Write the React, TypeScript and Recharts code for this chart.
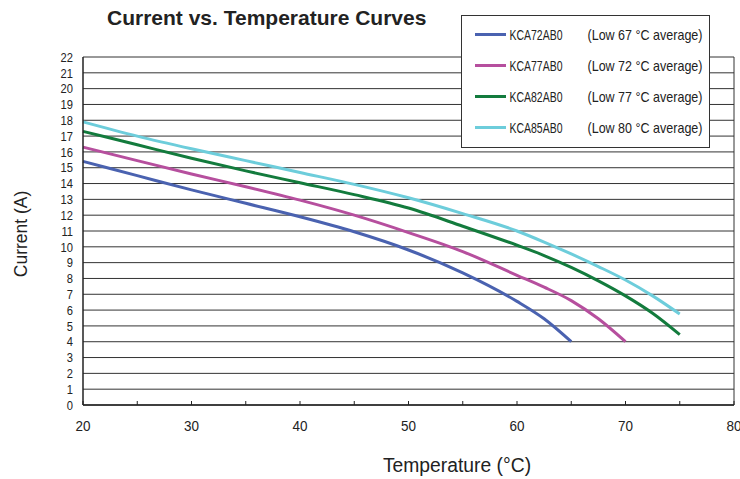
import { LineChart, Line, XAxis, YAxis, CartesianGrid, ReferenceLine } from 'recharts'

// temperature (°C) -> current (A)
const temps = [20, 25, 30, 35, 40, 45, 50, 55, 60, 62.5, 65, 67.5, 70, 72.5, 75]
const kca72 = [15.4, 14.5, 13.6, 12.75, 11.9, 10.95, 9.8, 8.35, 6.55, 5.45, 4.0, null, null, null, null]
const kca77 = [16.3, 15.45, 14.6, 13.8, 12.95, 12.0, 10.9, 9.7, 8.2, 7.45, 6.6, 5.45, 4.0, null, null]
const kca82 = [17.3, 16.45, 15.6, 14.8, 14.05, 13.3, 12.45, 11.3, 10.1, 9.45, 8.7, 7.85, 6.9, 5.8, 4.45]
const kca85 = [17.9, 17.0, 16.2, 15.45, 14.7, 13.95, 13.1, 12.1, 11.0, 10.3, 9.55, 8.75, 7.9, 6.9, 5.75]

const seriesKeys = ['kca72', 'kca77', 'kca82', 'kca85']
const seriesNames = ['KCA72AB0', 'KCA77AB0', 'KCA82AB0', 'KCA85AB0']
const seriesNotes = ['(Low 67 °C average)', '(Low 72 °C average)', '(Low 77 °C average)', '(Low 80 °C average)']
const seriesColors = ['#4a62b0', '#b64f9e', '#137b3d', '#6dcddb']

const xTicks = [20, 25, 30, 35, 40, 45, 50, 55, 60, 65, 70, 75, 80]
const yTicks = Array.from({ length: 23 }, (_, i) => i)

const data = temps.map((t, i) => ({
  t,
  kca72: kca72[i],
  kca77: kca77[i],
  kca82: kca82[i],
  kca85: kca85[i],
}))

const FONT = '"Liberation Sans", Arial, sans-serif'

type TickProps = { x?: number; y?: number; payload?: { value: number } }

function XTick({ x, y, payload }: TickProps) {
  if (x === undefined || y === undefined || !payload) return null
  return (
    <g>
      <line x1={x} y1={y} x2={x} y2={y - 4} stroke="#222" strokeWidth={1} />
      {payload.value % 10 === 0 && (
        <text
          transform={`translate(${x} ${y + 26}) scale(0.9 1)`}
          textAnchor="middle"
          fontSize={15}
          fill="#222"
          fontFamily={FONT}
        >
          {payload.value}
        </text>
      )}
    </g>
  )
}

function YTick({ x, y, payload }: TickProps) {
  if (x === undefined || y === undefined || !payload) return null
  return (
    <text
      transform={`translate(${x} ${y}) scale(0.86 1)`}
      dy="0.36em"
      textAnchor="end"
      fontSize={13}
      fill="#222"
      fontFamily={FONT}
    >
      {payload.value}
    </text>
  )
}

function LegendBox() {
  return (
    <svg
      width={249}
      height={133}
      style={{ position: 'absolute', left: 460.5, top: 14.5, overflow: 'visible' }}
    >
      <rect x={0.5} y={0.5} width={248} height={132} fill="#fff" stroke="#333" strokeWidth={1} />
      {seriesNames.map((name, i) => {
        const cy = 19.5 + i * 31
        return (
          <g key={name}>
            <line x1={14} x2={45} y1={cy} y2={cy} stroke={seriesColors[i]} strokeWidth={3} />
            <text
              x={48.5}
              y={cy + 5}
              fontSize={15}
              fill="#222"
              fontFamily={FONT}
              textLength={53}
              lengthAdjust="spacingAndGlyphs"
            >
              {name}
            </text>
            <text
              x={126.5}
              y={cy + 5}
              fontSize={14.5}
              fill="#222"
              fontFamily={FONT}
              textLength={115}
              lengthAdjust="spacingAndGlyphs"
            >
              {seriesNotes[i]}
            </text>
          </g>
        )
      })}
    </svg>
  )
}

export default function App() {
  return (
    <div style={{ position: 'absolute', left: 0, top: 0, width: 740, height: 479, background: '#fff' }}>
      <LineChart width={740} height={479} data={data} margin={{ top: 57, right: 6, left: 0, bottom: 0 }}>
        <text x={107} y={25} fontSize={21} fontWeight="bold" fill="#222" fontFamily={FONT}>
          Current vs. Temperature Curves
        </text>
        <CartesianGrid horizontal vertical={false} stroke="#333" strokeWidth={1} />
        <XAxis
          dataKey="t"
          type="number"
          domain={[20, 80]}
          ticks={xTicks}
          interval={0}
          height={74}
          tickSize={0}
          tickMargin={0}
          tickLine={false}
          axisLine={{ stroke: '#222', strokeWidth: 1.5 }}
          tick={<XTick />}
          label={{
            content: () => (
              <text
                transform="translate(457 472) scale(0.92 1)"
                textAnchor="middle"
                fontSize={21}
                fill="#222"
                fontFamily={FONT}
              >
                Temperature (°C)
              </text>
            ),
          }}
        />
        <YAxis
          type="number"
          domain={[0, 22]}
          ticks={yTicks}
          interval={0}
          width={83}
          tickLine={false}
          tickSize={0}
          tickMargin={10}
          axisLine={{ stroke: '#222', strokeWidth: 1.5 }}
          tick={<YTick />}
          label={{
            content: () => (
              <text
                transform="translate(27 234) rotate(-90) scale(0.92 1)"
                textAnchor="middle"
                fontSize={19}
                fill="#222"
                fontFamily={FONT}
              >
                Current (A)
              </text>
            ),
          }}
        />
        <ReferenceLine x={80} stroke="#333" strokeWidth={1} />
        {seriesKeys.map((key, i) => (
          <Line
            key={key}
            dataKey={key}
            name={seriesNames[i]}
            type="monotone"
            stroke={seriesColors[i]}
            strokeWidth={3}
            dot={false}
            activeDot={false}
            connectNulls={false}
            isAnimationActive={false}
          />
        ))}
      </LineChart>
      <LegendBox />
    </div>
  )
}
